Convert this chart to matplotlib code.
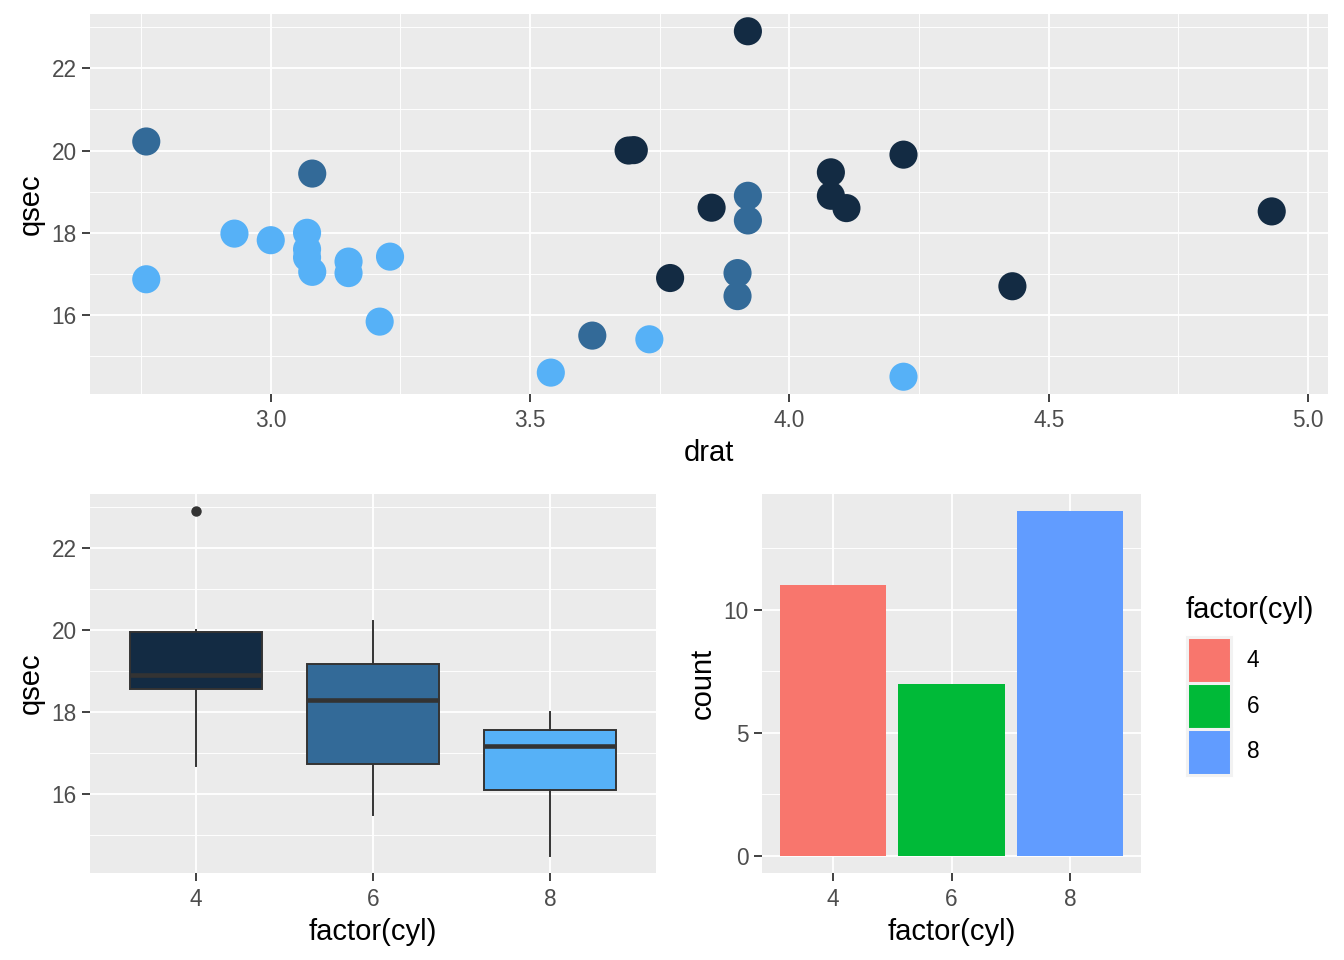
import numpy as np
import matplotlib
matplotlib.use('Agg')
import matplotlib.pyplot as plt
from matplotlib.patches import Patch
from matplotlib.ticker import MultipleLocator

plt.rcParams['font.family'] = ['Liberation Sans', 'DejaVu Sans']

# mtcars: cyl, drat, qsec
cyl = [6, 6, 4, 6, 8, 6, 8, 4, 4, 6, 6, 8, 8, 8, 8, 8, 8, 4, 4, 4, 4, 8, 8, 8, 8, 4, 4, 4, 8, 6, 8, 4]
drat = [3.90, 3.90, 3.85, 3.08, 3.15, 2.76, 3.21, 3.69, 3.92, 3.92, 3.92, 3.07, 3.07, 3.07, 2.93, 3.00,
        3.23, 4.08, 4.93, 4.22, 3.70, 2.76, 3.15, 3.73, 3.08, 4.08, 4.43, 3.77, 4.22, 3.62, 3.54, 4.11]
qsec = [16.46, 17.02, 18.61, 19.44, 17.02, 20.22, 15.84, 20.00, 22.90, 18.30, 18.90, 17.40, 17.60, 18.00,
        17.98, 17.82, 17.42, 19.47, 18.52, 19.90, 20.01, 16.87, 17.30, 15.41, 17.05, 18.90, 16.70, 16.90,
        14.50, 15.50, 14.60, 18.60]

levels = [4, 6, 8]
grad_colors = {4: '#132B43', 6: '#336A98', 8: '#56B1F7'}
hue_colors = {4: '#F8766D', 6: '#00BA38', 8: '#619CFF'}

W, H = 1344, 960
fig = plt.figure(figsize=(W / 100, H / 100), dpi=100)

tick_size = 16.3
title_size = 21


def add_ax(l, t, r, b):
    return fig.add_axes([l / W, 1 - b / H, (r - l) / W, (b - t) / H])


def gg_style(ax):
    ax.set_facecolor('#EBEBEB')
    for s in ax.spines.values():
        s.set_visible(False)
    ax.grid(which='major', color='white', linewidth=1.3)
    ax.grid(which='minor', color='white', linewidth=0.65)
    ax.set_axisbelow(True)
    ax.tick_params(which='major', length=5.5, width=1.3, color='#333333',
                   labelcolor='#4D4D4D', labelsize=tick_size)
    ax.tick_params(axis='x', which='major', pad=5.5)
    ax.tick_params(axis='y', which='major', pad=4)
    ax.tick_params(which='minor', length=0)


# top scatter
ax1 = add_ax(90, 14, 1328, 394)
gg_style(ax1)
ax1.scatter(drat, qsec, c=[grad_colors[c] for c in cyl], s=410, linewidths=0, zorder=3)
ax1.set_xlim(2.6515, 5.0385)
ax1.set_ylim(14.08, 23.32)
ax1.xaxis.set_minor_locator(MultipleLocator(0.25))
ax1.yaxis.set_major_locator(MultipleLocator(2))
ax1.yaxis.set_minor_locator(MultipleLocator(1))
ax1.set_xticks([3.0, 3.5, 4.0, 4.5, 5.0])
ax1.set_xticklabels(['3.0', '3.5', '4.0', '4.5', '5.0'])
ax1.set_xlabel('drat', fontsize=title_size, labelpad=5)
ax1.set_ylabel('qsec', fontsize=title_size, labelpad=5)

# bottom-left boxplot
ax2 = add_ax(90, 494, 656, 873)
gg_style(ax2)
groups = [[q for q, c in zip(qsec, cyl) if c == lv] for lv in levels]
bp = ax2.boxplot(groups, positions=[1, 2, 3], widths=0.75, patch_artist=True, whis=1.5,
                 showcaps=False,
                 medianprops=dict(color='#333333', linewidth=3.3),
                 whiskerprops=dict(color='#333333', linewidth=1.4),
                 boxprops=dict(edgecolor='#333333', linewidth=1.4),
                 flierprops=dict(marker='o', markerfacecolor='#333333', markeredgecolor='#333333',
                                 markersize=6.5))
for patch, lv in zip(bp['boxes'], levels):
    patch.set_facecolor(grad_colors[lv])
for art in bp['boxes'] + bp['medians'] + bp['whiskers'] + bp['fliers']:
    art.set_zorder(3)
ax2.set_xlim(0.4, 3.6)
ax2.set_ylim(14.08, 23.32)
ax2.set_xticks([1, 2, 3])
ax2.set_xticklabels([str(lv) for lv in levels])
ax2.yaxis.set_major_locator(MultipleLocator(2))
ax2.yaxis.set_minor_locator(MultipleLocator(1))
ax2.set_xlabel('factor(cyl)', fontsize=title_size, labelpad=5)
ax2.set_ylabel('qsec', fontsize=title_size, labelpad=5)

# bottom-right bar chart
ax3 = add_ax(762, 494, 1141, 873)
gg_style(ax3)
counts = [cyl.count(lv) for lv in levels]
ax3.bar([1, 2, 3], counts, width=0.9, color=[hue_colors[lv] for lv in levels], zorder=3)
ax3.set_xlim(0.4, 3.6)
ax3.set_ylim(-0.7, 14.7)
ax3.set_xticks([1, 2, 3])
ax3.set_xticklabels([str(lv) for lv in levels])
ax3.yaxis.set_major_locator(MultipleLocator(5))
ax3.yaxis.set_minor_locator(MultipleLocator(2.5))
ax3.set_xlabel('factor(cyl)', fontsize=title_size, labelpad=5)
ax3.set_ylabel('count', fontsize=title_size, labelpad=5)

# legend
fig.text(1186 / W, 1 - 610 / H, 'factor(cyl)', fontsize=title_size, ha='left', va='center')
handles = [Patch(facecolor=hue_colors[lv], edgecolor='#F2F2F2', linewidth=2.2, label=str(lv)) for lv in levels]
leg = fig.legend(handles=handles, loc='upper left',
                 bbox_to_anchor=(1187 / W, 1 - 637 / H), frameon=False, fontsize=tick_size,
                 handlelength=1.95, handleheight=2.74, labelspacing=0.0, handletextpad=0.7,
                 borderpad=0, borderaxespad=0)

fig.savefig('out.png', dpi=100)
